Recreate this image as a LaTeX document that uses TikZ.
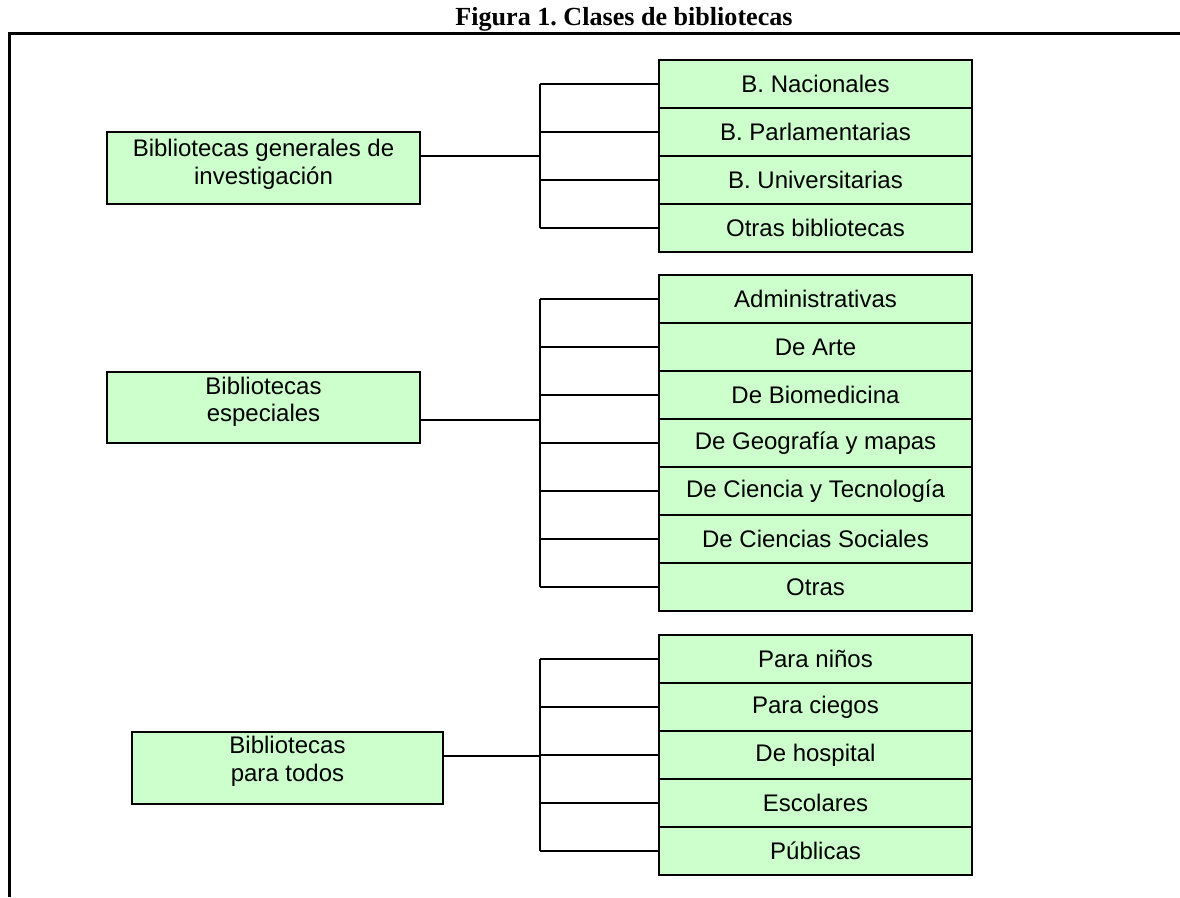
\documentclass[tikz,border=0pt]{standalone}
\usepackage{fontspec}
\setmainfont{Liberation Sans}
\newfontfamily\captionserif{Liberation Serif}
\definecolor{boxgreen}{HTML}{CCFFCC}
\frenchspacing
% two-line label inside a category box, set a little above the box centre
\newcommand\liftlines[2][5pt]{\raisebox{#1}[\height][\depth]{\begin{tabular}{@{}c@{}}#2\end{tabular}}}
\begin{document}
\begin{tikzpicture}[x=1pt,y=-1pt,
  catbox/.style={draw, fill=boxgreen, line width=1.8pt, minimum width=313pt,
    minimum height=72pt, inner sep=0pt,
    font=\fontsize{24}{27.5}\selectfont},
  subbox/.style={draw, fill=boxgreen, line width=1.8pt, minimum width=313pt,
    minimum height=48pt, inner sep=0pt,
    font=\fontsize{24}{27}\selectfont},
  link/.style={line width=2pt},
  frameline/.style={line width=3.5pt, line join=miter}]

\useasboundingbox (0,0) rectangle (1180,897);

% caption and open frame
\node[font=\captionserif\bfseries\fontsize{26.1}{28}\selectfont, anchor=base]
  (caption) at (624,25) {Figura 1. Clases de bibliotecas};
\coordinate (fr1) at (1180,33.5);
\coordinate (fr2) at (9.5,33.5);
\coordinate (fr3) at (9.5,897);
\draw[frameline] (fr1) -- (fr2) -- (fr3);

% vertical bus shared by the three groups
\coordinate (busx) at (540,0);

% --- group 1
\node[catbox] (L1) at (263.5,168) {\liftlines[3pt]{Bibliotecas generales de\\investigación}};
\foreach \t [count=\i] in {B. Nacionales, B. Parlamentarias, B. Universitarias, Otras bibliotecas}{
  \node[subbox] (a\i) at (815.5,36+48*\i) {\t};
  \draw[link] (a\i.west -| busx) -- (a\i.west);
}
\draw[link] (a1.west -| busx) -- (a4.west -| busx);
\coordinate (j1) at (540,156);
\draw[link] (L1.east |- j1) -- (j1);

% --- group 2
\node[catbox, minimum height=71pt] (L2) at (263.5,407.5) {\liftlines[5pt]{Bibliotecas\\especiales}};
\foreach \t [count=\i] in {Administrativas, De Arte, De Biomedicina, De Geografía y mapas,
  De Ciencia y Tecnología, De Ciencias Sociales, Otras}{
  \node[subbox] (b\i) at (815.5,251+48*\i) {\t};
  \draw[link] (b\i.west -| busx) -- (b\i.west);
}
\draw[link] (b1.west -| busx) -- (b7.west -| busx);
\coordinate (j2) at (540,420);
\draw[link] (L2.east |- j2) -- (j2);

% --- group 3
\node[catbox, minimum width=311pt] (L3) at (287.5,768) {\liftlines[6pt]{Bibliotecas\\para todos}};
\foreach \t [count=\i] in {Para niños, Para ciegos, De hospital, Escolares, Públicas}{
  \node[subbox] (c\i) at (815.5,611+48*\i) {\t};
  \draw[link] (c\i.west -| busx) -- (c\i.west);
}
\draw[link] (c1.west -| busx) -- (c5.west -| busx);
\coordinate (j3) at (540,756);
\draw[link] (L3.east |- j3) -- (j3);

\end{tikzpicture}
\end{document}
